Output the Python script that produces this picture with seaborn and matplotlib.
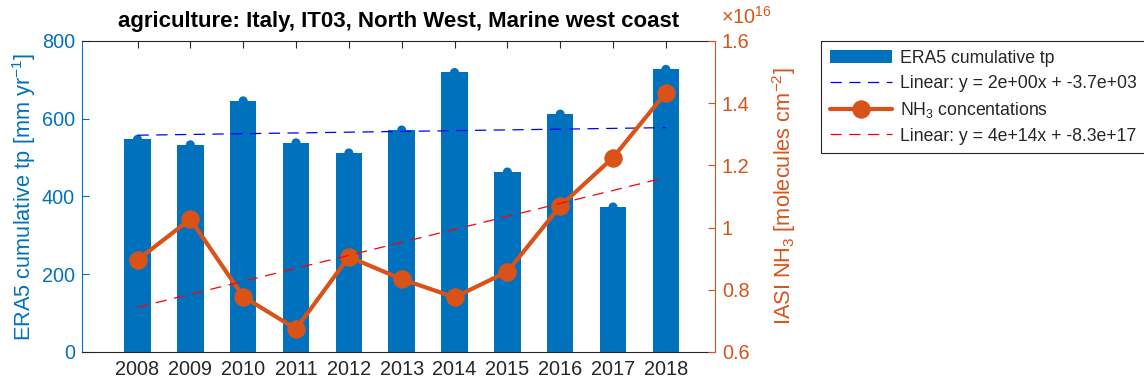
import numpy as np
import matplotlib
matplotlib.use("Agg")
import matplotlib.pyplot as plt
from matplotlib.ticker import FuncFormatter
import seaborn as sns

# Datos
years = [2008, 2009, 2010, 2011, 2012, 2013, 2014, 2015, 2016, 2017, 2018]
tp = [547, 533, 646, 538, 512, 571, 719, 463, 612, 373, 727]  # mm yr-1
nh3 = [0.896e16, 1.027e16, 0.778e16, 0.674e16, 0.906e16, 0.834e16,
       0.776e16, 0.858e16, 1.069e16, 1.225e16, 1.434e16]  # molecules cm-2

tp_label = "ERA5 cumulative tp"
tp_fit_label = "Linear: y = 2e+00x + -3.7e+03"
nh3_label = r"NH$_3$ concentations"
nh3_fit_label = "Linear: y = 4e+14x + -8.3e+17"

blue = "#0072BD"
orange = "#D95319"
dark = "#262626"

sns.set_style("white")
plt.rcParams["font.family"] = ["Liberation Sans", "DejaVu Sans"]
plt.rcParams["mathtext.fontset"] = "custom"
plt.rcParams["mathtext.rm"] = "Liberation Sans"
plt.rcParams["mathtext.it"] = "Liberation Sans:italic"
plt.rcParams["mathtext.bf"] = "Liberation Sans:bold"
fs_tick = 14.3
fs_label = 15.7
fs_title = 16
fs_leg = 12.7

fig, ax = plt.subplots(figsize=(11.44, 3.83), dpi=100)
fig.subplots_adjust(left=0.0717, right=0.625, bottom=0.081, top=0.893)

# Barras de precipitación
sns.barplot(x=years, y=tp, ax=ax, color=blue, width=0.5, native_scale=True,
            saturation=1, edgecolor="none", zorder=2)
sns.scatterplot(x=years, y=tp, ax=ax, color=blue, s=42, edgecolor="none",
                zorder=3, legend=False)

# Ajuste lineal precipitación
x = np.array(years, dtype=float)
p_tp = np.polyfit(x, tp, 1)
ax.plot(x, np.polyval(p_tp, x), color="#0000FF", lw=0.9, dashes=(9, 6),
        zorder=4)

ax.set_xlim(2008 - 1.05, 2018 + 0.93)
ax.set_ylim(0, 800)
ax.set_yticks([0, 200, 400, 600, 800])
ax.set_xticks(years)
ax.set_xticklabels([str(y) for y in years])
ax.set_ylabel(r"ERA5 cumulative tp [mm yr$^{\mathregular{-1}}$]", color=blue,
              fontsize=fs_label, labelpad=3)
ax.set_title("agriculture: Italy, IT03, North West, Marine west coast",
             fontsize=fs_title, fontweight="bold", color="black", pad=10)
ax.tick_params(axis="x", direction="in", top=True, bottom=True, length=5,
               colors=dark, labelsize=fs_tick, pad=6, width=0.8)
ax.tick_params(axis="y", direction="in", left=True, length=5, colors=blue,
               labelsize=fs_tick, width=0.8, pad=5)
for s in ["top", "bottom"]:
    ax.spines[s].set_color(dark)
    ax.spines[s].set_linewidth(0.8)
ax.spines["left"].set_color(blue)
ax.spines["left"].set_linewidth(0.8)
ax.spines["right"].set_visible(False)

# Eje derecho NH3
ax2 = ax.twinx()
sns.lineplot(x=years, y=nh3, ax=ax2, color=orange, lw=3, marker="o",
             markersize=12.5, markeredgecolor=orange, zorder=3)
p_nh3 = np.polyfit(x, nh3, 1)
ax2.plot(x, np.polyval(p_nh3, x), color="#FF0000", lw=0.9, dashes=(9, 6),
         zorder=4)
if ax2.get_legend() is not None:
    ax2.get_legend().remove()

ax2.set_ylim(0.6e16, 1.6e16)
ax2.set_yticks([0.6e16, 0.8e16, 1.0e16, 1.2e16, 1.4e16, 1.6e16])
ax2.yaxis.set_major_formatter(FuncFormatter(lambda v, pos: f"{v / 1e16:g}"))
ax2.set_ylabel(r"IASI NH$_3$ [molecules cm$^{\mathregular{-2}}$]", color=orange,
               fontsize=fs_label, labelpad=15)
ax2.tick_params(axis="y", direction="in", right=True, length=5, colors=orange,
                labelsize=fs_tick, width=0.8, pad=5)
for s in ["top", "bottom", "left"]:
    ax2.spines[s].set_visible(False)
ax2.spines["right"].set_color(orange)
ax2.spines["right"].set_linewidth(0.8)
ax2.text(1.01, 1.042, r"$\times\mathregular{10}^{\mathregular{16}}$", transform=ax2.transAxes,
         color=orange, fontsize=fs_tick, ha="left", va="bottom")

# Leyenda
h_bar = ax.containers[0]
h_line1 = ax.lines[-1]
h_nh3 = ax2.lines[0]
h_line2 = ax2.lines[-1]
leg = fig.legend([h_bar, h_line1, h_nh3, h_line2],
                 [tp_label, tp_fit_label, nh3_label, nh3_fit_label],
                 loc="upper left", bbox_to_anchor=(0.7177, 0.893),
                 fontsize=fs_leg, frameon=True, fancybox=False, framealpha=1,
                 edgecolor=dark, handlelength=3.5, labelspacing=0.45,
                 borderpad=0.5, handletextpad=0.45, borderaxespad=0)
leg.get_frame().set_linewidth(0.8)

fig.savefig("out.png", dpi=100)
